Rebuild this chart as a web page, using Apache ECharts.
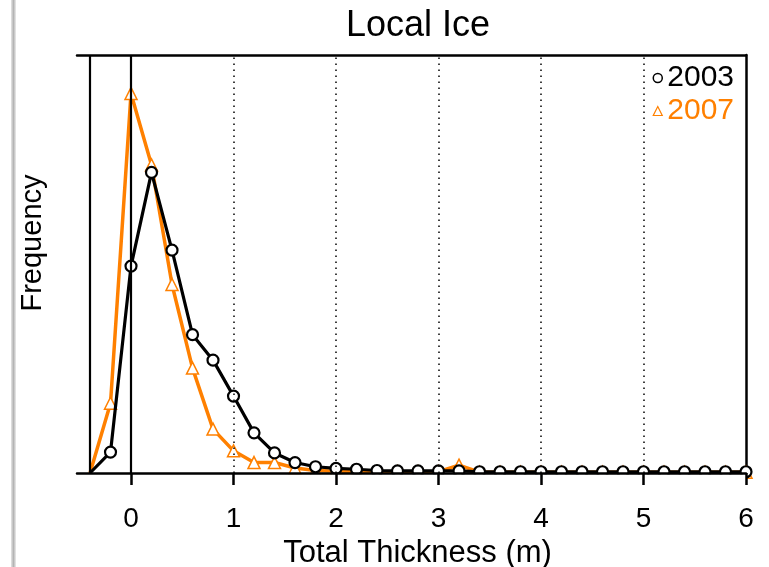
<!DOCTYPE html>
<html>
<head>
<meta charset="utf-8">
<script src="https://cdn.jsdelivr.net/npm/echarts@6/dist/echarts.min.js"></script>
<style>
  html, body { margin: 0; padding: 0; background: #fff; }
  #chart { width: 769px; height: 567px; }
</style>
</head>
<body>
<div id="chart"></div>
<script>
// Ice thickness bins (m)
const thickness = [-0.4, -0.2, 0, 0.2, 0.4, 0.6, 0.8, 1.0, 1.2, 1.4, 1.6, 1.8, 2.0, 2.2, 2.4, 2.6, 2.8,
  3.0, 3.2, 3.4, 3.6, 3.8, 4.0, 4.2, 4.4, 4.6, 4.8, 5.0, 5.2, 5.4, 5.6, 5.8, 6.0];

// Relative frequency per bin
const freq2003 = [0, 0.050, 0.495, 0.719, 0.533, 0.331, 0.270, 0.184, 0.096, 0.048, 0.025, 0.015, 0.011,
  0.009, 0.006, 0.005, 0.005, 0.005, 0.005, 0.003, 0.003, 0.003, 0.003, 0.003, 0.003, 0.003, 0.003,
  0.003, 0.003, 0.003, 0.003, 0.003, 0.003];
const freq2007 = [0, 0.167, 0.908, 0.737, 0.451, 0.251, 0.105, 0.053, 0.025, 0.025, 0.012, 0.006, 0.004,
  0.004, 0.003, 0.003, 0.003, 0.003, 0.019, 0.002, 0.002, 0.002, 0.002, 0.002, 0.002, 0.002, 0.002,
  0.002, 0.002, 0.002, 0.002, 0.002, 0.002];

const tickValues = [0, 1, 2, 3, 4, 5, 6];
const dottedGuides = [1, 2, 3, 4, 5];
const solidGuides = [-0.4, 0];

const FONT = '"Liberation Sans", Arial, Helvetica, sans-serif';
const ORANGE = '#ff8000';
const GRID = { left: 77, right: 23, top: 55, bottom: 94 };
const W = 769, H = 567;

// first bin sits on the reference line, so it carries no marker
function seriesData(values) {
  return thickness.map((x, i) => i === 0 ? { value: [x, values[i]], symbol: 'none' } : [x, values[i]]);
}

const chart = echarts.init(document.getElementById('chart'), null, { renderer: 'canvas' });

const guideLines = []
  .concat(dottedGuides.map(v => ({ xAxis: v, lineStyle: { type: [1.5, 4.5], color: '#111', width: 1.6 } })))
  .concat(solidGuides.map(v => ({ xAxis: v, lineStyle: { type: 'solid', color: '#000', width: 2.2 } })));

const axisBlack = { color: '#000', width: 2.5 };

chart.setOption({
  animation: false,
  backgroundColor: '#fff',
  grid: Object.assign({ outerBoundsMode: 'none', containLabel: false }, GRID),
  legend: {
    orient: 'vertical',
    right: 30,
    top: 58,
    itemWidth: 9,
    itemHeight: 9,
    itemGap: 3,
    selectedMode: false,
    textStyle: { fontFamily: FONT, fontSize: 30 },
    data: [
      { name: '2003', icon: 'circle', itemStyle: { color: '#fff', borderColor: '#000', borderWidth: 1.5 },
        textStyle: { color: '#000' } },
      { name: '2007', icon: 'triangle', itemStyle: { color: '#fff', borderColor: ORANGE, borderWidth: 1.2 },
        textStyle: { color: ORANGE } }
    ]
  },
  xAxis: [{
    type: 'value',
    min: -0.527,
    max: 6,
    z: 10,
    axisLine: { show: true, onZero: false, lineStyle: axisBlack },
    axisTick: { show: true, customValues: tickValues, length: 12, lineStyle: axisBlack },
    axisLabel: { customValues: tickValues, margin: 32, fontSize: 28, fontFamily: FONT, color: '#000' },
    splitLine: { show: false },
    name: 'Total Thickness (m)',
    nameLocation: 'middle',
    nameGap: 59,
    nameTextStyle: { fontSize: 31, fontFamily: FONT, color: '#000', padding: [0, 0, 0, 12] }
  }, {
    type: 'value',
    position: 'top',
    min: -0.527,
    max: 6,
    axisLine: { show: true, onZero: false, lineStyle: axisBlack },
    axisTick: { show: false },
    axisLabel: { show: false },
    splitLine: { show: false }
  }],
  yAxis: [{
    type: 'value', min: 0, max: 1, show: false
  }, {
    type: 'value', position: 'right', min: 0, max: 1,
    axisLine: { show: true, onZero: false, lineStyle: axisBlack },
    axisTick: { show: false },
    axisLabel: { show: false },
    splitLine: { show: false }
  }],
  graphic: [
    // page edge shading
    { type: 'rect', shape: { x: 11, y: 0, width: 5, height: H }, z: 0,
      style: { fill: new echarts.graphic.LinearGradient(0, 0, 1, 0, [
        { offset: 0, color: '#e6e6e6' }, { offset: 0.5, color: '#b4b4b4' }, { offset: 1, color: '#ececec' }]) } },
    // keeps markers from spilling below the baseline
    { type: 'rect', shape: { x: GRID.left, y: H - GRID.bottom + 1.3, width: W - GRID.left - GRID.right, height: 9 },
      z: 5, style: { fill: '#fff' } },
    { type: 'text', x: 418, y: 26, z: 10,
      style: { text: 'Local Ice', fontSize: 36, fontFamily: FONT, fill: '#000', align: 'center', verticalAlign: 'middle' } },
    { type: 'text', x: 33, y: 243, rotation: Math.PI / 2, z: 10,
      style: { text: 'Frequency', fontSize: 29, fontFamily: FONT, fill: '#000', align: 'center', verticalAlign: 'middle' } }
  ],
  series: [{
    type: 'line',
    name: 'guides',
    data: [],
    z: 1,
    silent: true,
    markLine: { silent: true, symbol: ['none', 'none'], label: { show: false }, animation: false, data: guideLines }
  }, {
    type: 'line',
    name: '2007',
    data: seriesData(freq2007),
    z: 2,
    symbol: 'triangle',
    symbolSize: 12,
    lineStyle: { color: ORANGE, width: 3.5 },
    itemStyle: { color: '#fff', borderColor: ORANGE, borderWidth: 1.5 },
    emphasis: { disabled: true }
  }, {
    type: 'line',
    name: '2003',
    data: seriesData(freq2003),
    z: 3,
    symbol: 'circle',
    symbolSize: 11,
    lineStyle: { color: '#000', width: 3.2 },
    itemStyle: { color: '#fff', borderColor: '#000', borderWidth: 2.2 },
    emphasis: { disabled: true }
  }]
});
</script>
</body>
</html>
